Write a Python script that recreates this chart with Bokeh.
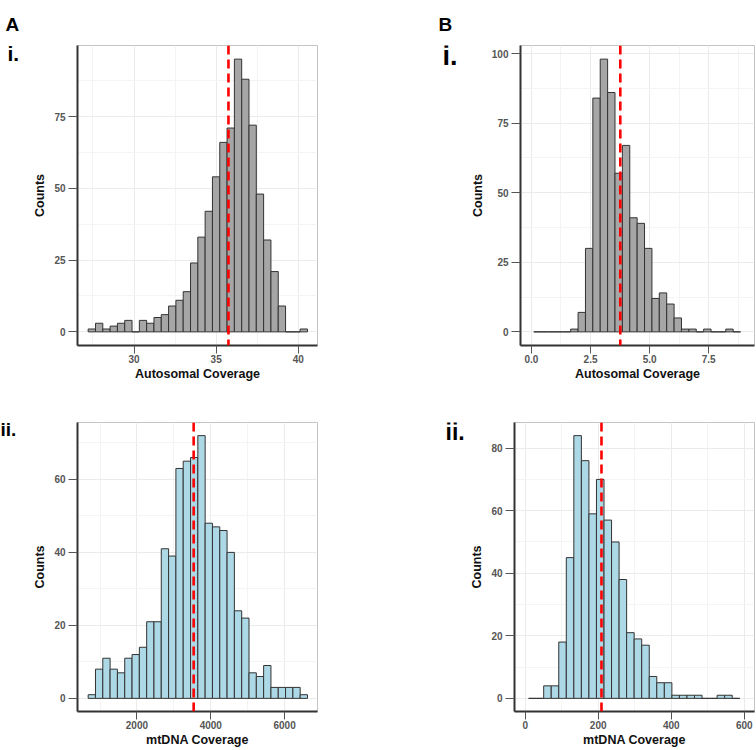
import numpy as np
from bokeh.plotting import figure
from bokeh.layouts import column, row
from bokeh.models import FixedTicker, Span, Label, Range1d
from bokeh.embed import file_html
from bokeh.resources import INLINE

# ---------------- data ----------------
# A i. autosomal coverage (histogram bins)
a1_bin_start = 27.21
a1_bin_width = 0.445
a1_counts = [1, 3, 1, 2, 3, 4, 0, 4, 3, 5, 6, 9, 11, 14, 24, 33, 42, 54, 66, 71,
             95, 88, 72, 48, 32, 21, 9, 0, 0, 1]
a1_mean = 35.75
a1_xticks = [30, 35, 40]
a1_xlabels = ["30", "35", "40"]
a1_yticks = [0, 25, 50, 75]

# B i. autosomal coverage
b1_bin_start = 0.097
b1_bin_width = 0.3126
b1_counts = [0, 0, 0, 0, 0, 1, 7, 30, 84, 98, 86, 57, 67, 41, 39, 30, 12, 14, 10, 5,
             1, 1, 0, 1, 0, 0, 1, 0]
b1_mean = 3.76
b1_xticks = [0, 2.5, 5, 7.5]
b1_xlabels = ["0.0", "2.5", "5.0", "7.5"]
b1_yticks = [0, 25, 50, 75, 100]

# A ii. mtDNA coverage
a2_bin_start = 679
a2_bin_width = 198
a2_counts = [1, 8, 11, 8, 7, 11, 12, 14, 21, 21, 41, 39, 63, 65, 66, 72, 48, 47, 46, 40,
             24, 22, 7, 6, 9, 3, 3, 3, 3, 1]
a2_mean = 3536
a2_xticks = [2000, 4000, 6000]
a2_xlabels = ["2000", "4000", "6000"]
a2_yticks = [0, 20, 40, 60]

# B ii. mtDNA coverage
b2_bin_start = 9.4
b2_bin_width = 20.65
b2_counts = [0, 0, 4, 4, 18, 45, 84, 76, 59, 70, 57, 50, 38, 21, 19, 17, 7, 5, 5, 1,
             1, 1, 1, 0, 0, 1, 1, 0]
b2_mean = 209
b2_xticks = [0, 200, 400, 600]
b2_xlabels = ["0", "200", "400", "600"]
b2_yticks = [0, 20, 40, 60, 80]

FONT = "Liberation Sans"


def panel(start, width, counts, mean, xticks, xlabels, yticks, xlabel, fill,
          xr, yr, w, h, bl, br, bt, bb):
    p = figure(width=w, height=h, output_backend="svg", toolbar_location=None,
               x_range=Range1d(*xr), y_range=Range1d(*yr),
               min_border_left=bl, min_border_right=br,
               min_border_top=bt, min_border_bottom=bb)
    counts = np.array(counts, dtype=float)
    left = start + width * np.arange(len(counts))
    p.quad(left=left, right=left + width, top=counts, bottom=0,
           fill_color=fill, line_color="#333333", line_width=1)
    p.add_layout(Span(location=mean, dimension="height", line_color="#FF0000",
                      line_width=2.6, line_dash="9 5"))
    step_x = xticks[1] - xticks[0]
    step_y = yticks[1] - yticks[0]
    xminor = [xticks[0] - step_x / 2] + [t + step_x / 2 for t in xticks]
    yminor = [t + step_y / 2 for t in yticks]
    xt = FixedTicker(ticks=xticks, minor_ticks=xminor)
    yt = FixedTicker(ticks=yticks, minor_ticks=yminor)
    p.xaxis.ticker = xt
    p.yaxis.ticker = yt
    p.xgrid.ticker = xt
    p.ygrid.ticker = yt
    p.xaxis.major_label_overrides = {t: l for t, l in zip(xticks, xlabels)}
    for g in (p.xgrid, p.ygrid):
        g.grid_line_color = "#EBEBEB"
        g.grid_line_width = 1
        g.minor_grid_line_color = "#F4F4F4"
        g.minor_grid_line_width = 1
    for ax in (p.xaxis, p.yaxis):
        ax.axis_line_color = "#333333"
        ax.axis_line_width = 2
        ax.major_tick_line_color = "#555555"
        ax.major_tick_line_width = 1
        ax.major_tick_in = 0
        ax.minor_tick_line_color = None
        ax.major_label_text_font = FONT
        ax.major_label_text_font_style = "bold"
        ax.major_label_text_font_size = "10px"
        ax.major_label_text_color = "#555555"
        ax.axis_label_text_font = FONT
        ax.axis_label_text_font_style = "bold"
        ax.axis_label_text_font_size = "12.5px"
        ax.axis_label_text_color = "#111111"
    p.xaxis.major_tick_out = 8
    p.yaxis.major_tick_out = 9
    p.xaxis.major_label_standoff = 1
    p.yaxis.major_label_standoff = 3
    p.xaxis.axis_label_standoff = 1
    p.yaxis.axis_label_standoff = 4
    p.xaxis.axis_label = xlabel
    p.yaxis.axis_label = "Counts"
    p.outline_line_color = "#C4C4C4"
    p.outline_line_width = 1
    p.background_fill_color = "white"
    p.border_fill_color = "white"
    return p


def label_strip(w, h, title_text, title_offset, labels):
    p = figure(width=w, height=h, output_backend="svg", toolbar_location=None,
               title=title_text, x_axis_type=None, y_axis_type=None,
               x_range=Range1d(0, w), y_range=Range1d(0, h),
               min_border_left=0, min_border_right=0,
               min_border_top=0, min_border_bottom=0)
    if title_text is not None:
        p.title.text_font = FONT
        p.title.text_font_style = "bold"
        p.title.text_font_size = "19px"
        p.title.text_color = "black"
        p.title.align = "left"
        p.title.offset = title_offset
        p.title.standoff = 22
    p.outline_line_color = None
    p.background_fill_color = "white"
    p.border_fill_color = "white"
    for text, x, y, size in labels:
        p.add_layout(Label(x=x, y=y, x_units="screen", y_units="screen", text=text,
                           text_font=FONT, text_font_style="bold",
                           text_font_size=size, text_color="black",
                           text_baseline="alphabetic", text_align="left"))
    return p


H1, H2 = 383, 366

labA1 = label_strip(30, H1, "A", 5, [("i.", 7, 292, "21px")])
a1 = panel(a1_bin_start, a1_bin_width, a1_counts, a1_mean, a1_xticks, a1_xlabels,
           a1_yticks, "Autosomal Coverage", "#A6A6A6",
           (26.56, 41.17), (-4.75, 99.75), 402, H1, 46, 115, 45, 36)
labB1 = label_strip(35, H1, "B", 6, [("i.", 10, 290, "27px")])
b1 = panel(b1_bin_start, b1_bin_width, b1_counts, b1_mean, b1_xticks, b1_xlabels,
           b1_yticks, "Autosomal Coverage", "#A6A6A6",
           (-0.464, 9.44), (-4.9, 102.9), 289, H1, 52, 2, 45, 36)

labA2 = label_strip(30, H2, None, 0, [("ii.", 0, 282, "19px")])
a2 = panel(a2_bin_start, a2_bin_width, a2_counts, a2_mean, a2_xticks, a2_xlabels,
           a2_yticks, "mtDNA Coverage", "#ADD8E6",
           (390, 6890), (-3.6, 75.6), 402, H2, 46, 115, 39, 35)
labB2 = label_strip(35, H2, None, 0, [("ii.", 13, 280, "23px")])
b2 = panel(b2_bin_start, b2_bin_width, b2_counts, b2_mean, b2_xticks, b2_xlabels,
           b2_yticks, "mtDNA Coverage", "#ADD8E6",
           (-29.2, 628), (-4.2, 88.2), 289, H2, 46, 2, 39, 35)

layout = column(row(labA1, a1, labB1, b1), row(labA2, a2, labB2, b2))
open("out.html", "w").write(file_html(layout, INLINE))
